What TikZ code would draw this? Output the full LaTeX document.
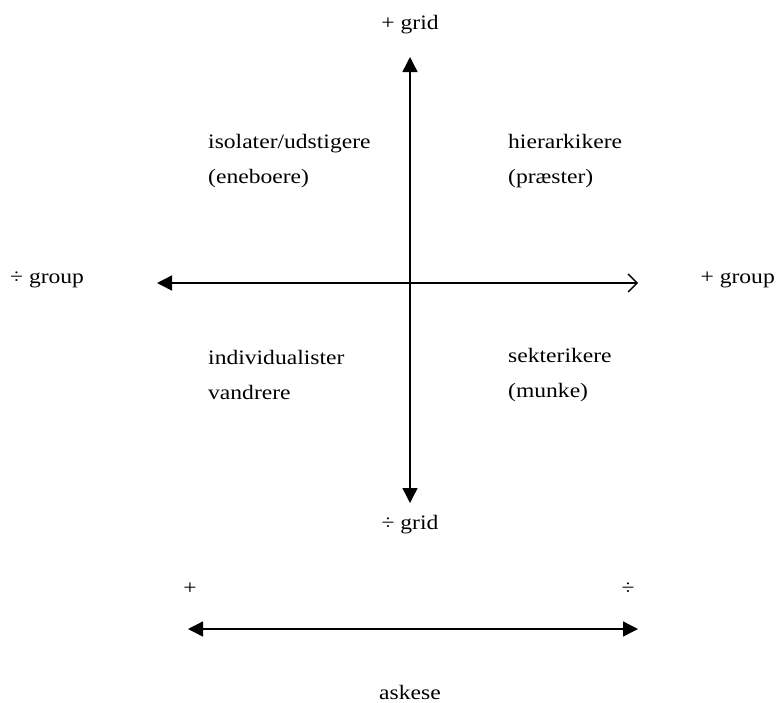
\documentclass[tikz,border=0pt]{standalone}
\usepackage{fontspec}
\setmainfont{Liberation Serif}[FakeStretch=1.15]
\usetikzlibrary{arrows.meta}
\begin{document}
\begin{tikzpicture}[x=1pt,y=-1pt,
  lbl/.style={font=\fontsize{20.5}{35}\selectfont, inner sep=0pt},
  quad/.style={lbl, anchor=west, align=left},
  axis/.style={line width=1.4pt},
  fhead/.style={Triangle[length=15pt,width=15pt]},
  ohead/.style={Straight Barb[length=9pt,width=18pt,line width=1.3pt]}]
\useasboundingbox (0,0) rectangle (776,702);
% axis endpoints
\coordinate (gtop) at (410,57);
\coordinate (gbot) at (410,503);
\coordinate (pleft) at (157,283);
\coordinate (pright) at (638,283);
\coordinate (aleft) at (188,629);
\coordinate (aright) at (638,629);
\draw[axis,{Triangle[length=15pt,width=15pt]}-{Triangle[length=15pt,width=15pt]}] (gtop) -- (gbot);
\draw[axis,{Triangle[length=15pt,width=15pt]}-{Straight Barb[length=9pt,width=18pt,line width=1.3pt]}] (pleft) -- (pright);
\draw[axis,{Triangle[length=15pt,width=15pt]}-{Triangle[length=15pt,width=15pt]}] (aleft) -- (aright);
% labels
\node[lbl] (pgrid) at (410,25) {+ grid};
\node[lbl] (mgrid) at (410,525) {÷ grid};
\node[lbl,anchor=west] (mgroup) at (10,280) {÷ group};
\node[lbl,anchor=east] (pgroup) at (775,280) {+ group};
\node[quad] (q1) at (208,161) {isolater/udstigere\\(eneboere)};
\node[quad] (q2) at (508,161) {hierarkikere\\(præster)};
\node[quad] (q3) at (208,375) {individualister\\vandrere};
\node[quad] (q4) at (508,375) {sekterikere\\(munke)};
\node[lbl] (plus) at (190,589) {+};
\node[lbl] (minus) at (628,589) {÷};
\node[lbl] (askese) at (410,692) {askese};
\end{tikzpicture}
\end{document}
